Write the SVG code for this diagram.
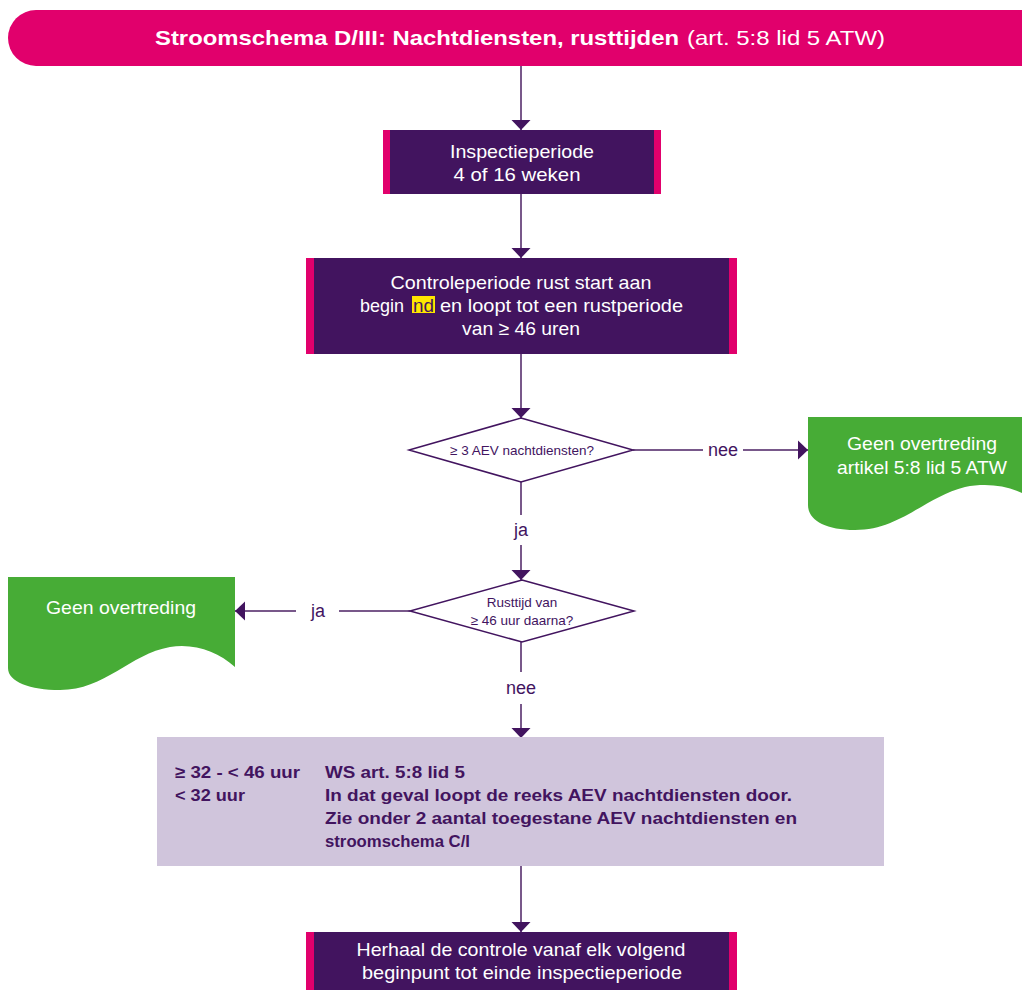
<svg xmlns="http://www.w3.org/2000/svg" width="1022" height="990" viewBox="0 0 1022 990">
<style>
.t{font-family:"Liberation Sans",Arial,sans-serif}
.wt{fill:#ffffff;font-size:19px;text-anchor:middle}
.dt{fill:#42145F;font-size:13.5px;text-anchor:middle}
.lb{fill:#42145F;font-size:18px;text-anchor:middle}
.bt{fill:#42145F;font-size:17px;font-weight:bold}
.pbox{fill:#42145F}
.stripe{fill:#E1006C}
.green{fill:#47AC36}
.dia{fill:#ffffff;stroke:#42145F;stroke-width:1.5}
.con{fill:none;stroke:#4B2163;stroke-width:1.5}
</style>
<defs>
<marker id="ah" markerUnits="userSpaceOnUse" markerWidth="10" markerHeight="20" refX="10" refY="10" orient="auto">
<path d="M0,0.5 L10,10 L0,19.5 Z" fill="#42145F"/>
</marker>
</defs>
<rect width="1022" height="990" fill="#ffffff"/>

<g id="title">
<rect x="8" y="10" width="1040" height="56" rx="28" ry="28" fill="#E1006C"/>
<text class="t" x="155" y="45" fill="#ffffff" font-size="21" font-weight="bold" textLength="524" lengthAdjust="spacingAndGlyphs">Stroomschema D/III: Nachtdiensten, rusttijden</text>
<text class="t" x="687" y="45" fill="#ffffff" font-size="21" textLength="198" lengthAdjust="spacingAndGlyphs">(art. 5:8 lid 5 ATW)</text>
</g>

<g id="connectors">
<path class="con" d="M521,66 V130" marker-end="url(#ah)"/>
<path class="con" d="M521,194 V258" marker-end="url(#ah)"/>
<path class="con" d="M521,354 V418" marker-end="url(#ah)"/>
<path class="con" d="M633,450 H703"/>
<path class="con" d="M743,450 H808" marker-end="url(#ah)"/>
<path class="con" d="M521,482 V515"/>
<path class="con" d="M521,545 V580" marker-end="url(#ah)"/>
<path class="con" d="M410,611 H339"/>
<path class="con" d="M296,611 H235" marker-end="url(#ah)"/>
<path class="con" d="M521,642 V672"/>
<path class="con" d="M521,704 V738" marker-end="url(#ah)"/>
<path class="con" d="M521,866 V932" marker-end="url(#ah)"/>
<text class="t lb" x="723" y="456">nee</text>
<text class="t lb" x="521" y="536">ja</text>
<text class="t lb" x="318" y="617">ja</text>
<text class="t lb" x="521" y="694">nee</text>
</g>

<g id="inspectieperiode">
<rect class="pbox" x="383" y="130" width="278" height="64"/>
<rect class="stripe" x="383" y="130" width="7" height="64"/>
<rect class="stripe" x="654" y="130" width="7" height="64"/>
<text class="t wt" x="522" y="158" textLength="144" lengthAdjust="spacingAndGlyphs">Inspectieperiode</text>
<text class="t wt" x="517" y="181" textLength="127" lengthAdjust="spacingAndGlyphs">4 of 16 weken</text>
</g>

<g id="controleperiode">
<rect class="pbox" x="306" y="258" width="431" height="96"/>
<rect class="stripe" x="306" y="258" width="8" height="96"/>
<rect class="stripe" x="729" y="258" width="8" height="96"/>
<text class="t wt" x="521" y="289" textLength="261" lengthAdjust="spacingAndGlyphs">Controleperiode rust start aan</text>
<text class="t" x="360" y="312" fill="#ffffff" font-size="19" textLength="44" lengthAdjust="spacingAndGlyphs">begin</text>
<rect x="412" y="296" width="23" height="17" fill="#FFE600"/>
<text class="t" x="413" y="312" fill="#42145F" font-size="19" textLength="21" lengthAdjust="spacingAndGlyphs">nd</text>
<text class="t" x="440" y="312" fill="#ffffff" font-size="19" textLength="243" lengthAdjust="spacingAndGlyphs">en loopt tot een rustperiode</text>
<text class="t wt" x="521" y="335" textLength="118" lengthAdjust="spacingAndGlyphs">van ≥ 46 uren</text>
</g>

<g id="vraag-aev">
<polygon class="dia" points="521,418 633,450 521,482 409,450"/>
<text class="t dt" x="522" y="455">≥ 3 AEV nachtdiensten?</text>
</g>

<g id="geen-overtreding-artikel">
<path class="green" d="M808,417 H1022 V493 C1005,485 985,483 965,487 C925,497 900,530 855,530 C825,530 808,520 808,505 Z"/>
<text class="t wt" x="922" y="450" textLength="150" lengthAdjust="spacingAndGlyphs">Geen overtreding</text>
<text class="t wt" x="922" y="474" textLength="170" lengthAdjust="spacingAndGlyphs">artikel 5:8 lid 5 ATW</text>
</g>

<g id="vraag-rusttijd">
<polygon class="dia" points="522,580 634,611 522,642 410,611"/>
<text class="t dt" x="522" y="607">Rusttijd van</text>
<text class="t dt" x="522" y="625">≥ 46 uur daarna?</text>
</g>

<g id="geen-overtreding">
<path class="green" d="M8,577 H235 V667 C218,652 195,643 170,647 C130,654 105,690 60,690 C30,690 8,682 8,668 Z"/>
<text class="t wt" x="121" y="614" textLength="150" lengthAdjust="spacingAndGlyphs">Geen overtreding</text>
</g>

<g id="uitkomst">
<rect x="157" y="737" width="727" height="129" fill="#D0C5DC"/>
<text class="t bt" x="175" y="778" textLength="125" lengthAdjust="spacingAndGlyphs">≥ 32 - &lt; 46 uur</text>
<text class="t bt" x="175" y="801" textLength="70" lengthAdjust="spacingAndGlyphs">&lt; 32 uur</text>
<text class="t bt" x="325" y="778" textLength="140" lengthAdjust="spacingAndGlyphs">WS art. 5:8 lid 5</text>
<text class="t bt" x="325" y="801" textLength="467" lengthAdjust="spacingAndGlyphs">In dat geval loopt de reeks AEV nachtdiensten door.</text>
<text class="t bt" x="325" y="824" textLength="472" lengthAdjust="spacingAndGlyphs">Zie onder 2 aantal toegestane AEV nachtdiensten en</text>
<text class="t bt" x="325" y="847" textLength="145" lengthAdjust="spacingAndGlyphs">stroomschema C/I</text>
</g>

<g id="herhaal">
<rect class="pbox" x="306" y="932" width="431" height="70"/>
<rect class="stripe" x="306" y="932" width="8" height="70"/>
<rect class="stripe" x="729" y="932" width="8" height="70"/>
<text class="t wt" x="521" y="956" textLength="329" lengthAdjust="spacingAndGlyphs">Herhaal de controle vanaf elk volgend</text>
<text class="t wt" x="522" y="979" textLength="320" lengthAdjust="spacingAndGlyphs">beginpunt tot einde inspectieperiode</text>
</g>
</svg>
